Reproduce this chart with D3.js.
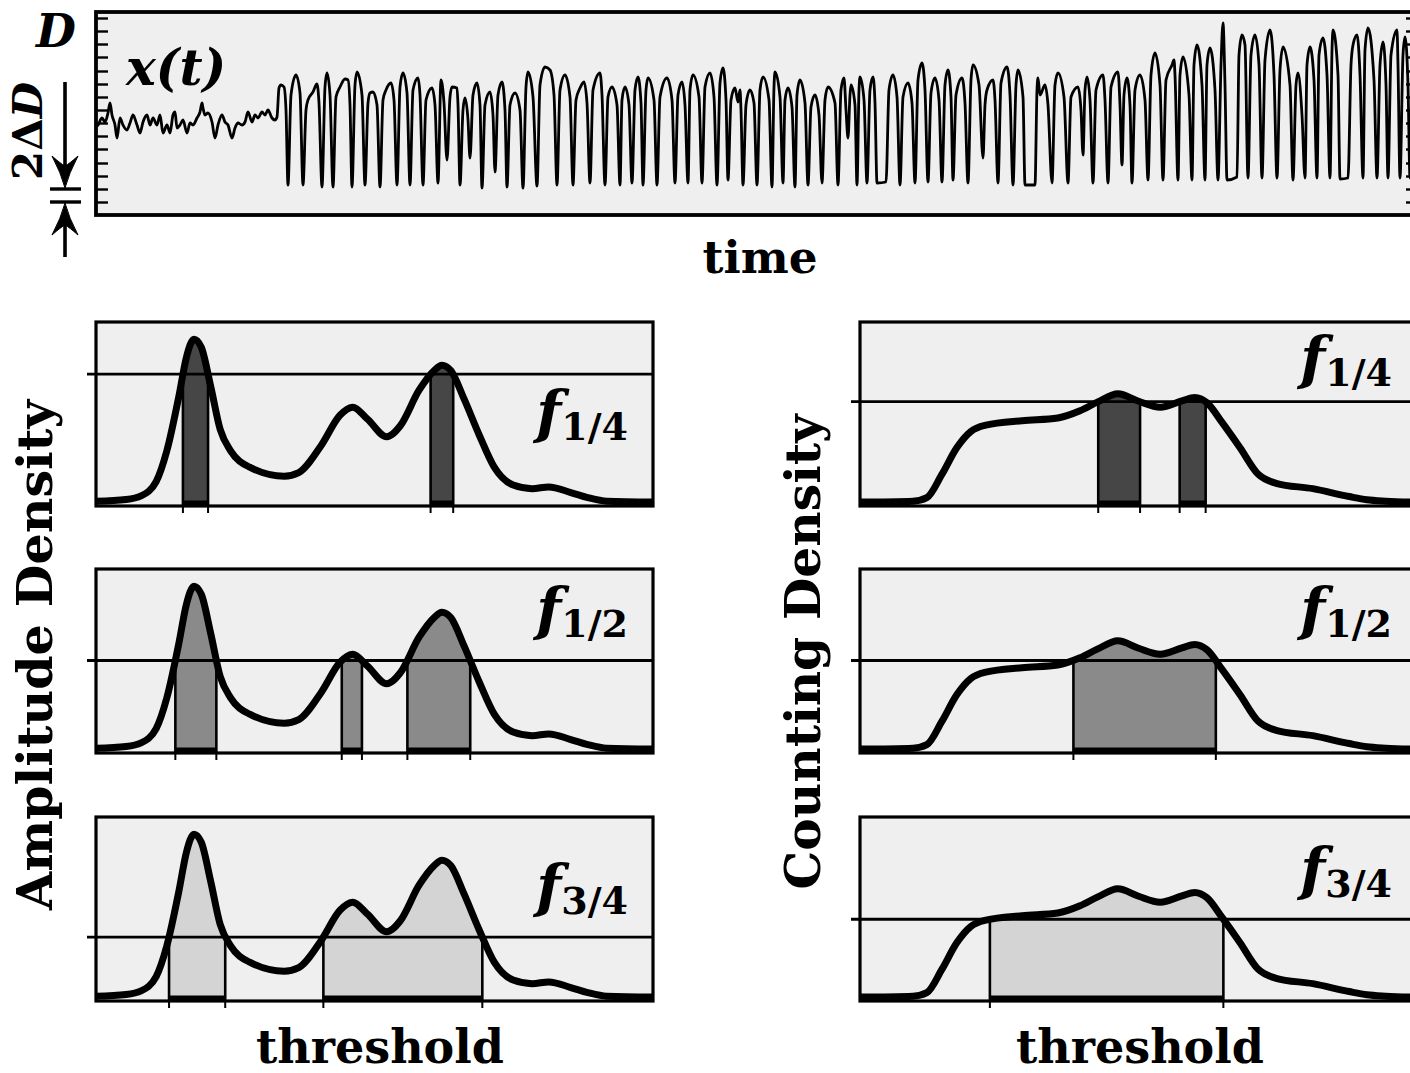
<!DOCTYPE html>
<html>
<head>
<meta charset="utf-8">
<script src="https://cdn.jsdelivr.net/npm/d3@7"></script>
<style>
  html, body { margin: 0; padding: 0; background: #fff; }
  svg { display: block; }
</style>
</head>
<body>
<svg id="fig" width="1410" height="1073"></svg>
<script>
// ---------------- data ----------------
// recorded signal x(t): [time, amplitude]
const signal = [
  [0,88],[2,90],[6,97],[9,93],[12,102],[14,112],[16,100],[19,90],[21,77],[24,97],[27,90],[31,85],[34,92],
  [37,100],[41,90],[44,82],[47,93],[51,100],[54,90],[57,97],[61,90],[64,100],[67,82],[71,90],[74,82],
  [77,100],[79,103],[81,87],[84,90],[87,95],[91,82],[94,92],[97,90],[101,97],[104,103],[106,112],[107,107],
  [109,100],[112,102],[116,93],[119,77],[122,90],[126,100],[129,93],[132,90],[136,77],[139,87],[142,92],
  [146,90],[149,93],[152,103],[156,93],[159,100],[162,97],[166,103],[169,100],[172,105],[176,97],[179,95],[181,98],
  [183,127],[185,130],[188,128],[190,105],[192,30],
  [195,120],[200,140],[204,122],[207,30],
  [210,105],[212,115],[217,123],[221,131],[223,112],[226,28],
  [229,128],[231,142],[234,120],[237,28],
  [240,118],[244,128],[249,136],[252,135],[254,110],[256,28],
  [259,130],[261,143],[266,120],[269,30],
  [272,112],[274,122],[277,123],[281,110],[284,28],
  [287,115],[290,125],[295,132],[298,115],[301,30],
  [304,128],[307,142],[311,122],[314,30],
  [317,125],[322,137],[324,120],[327,30],
  [330,115],[336,127],[339,110],[342,32],
  [345,135],[348,112],[351,55],
  [354,118],[356,128],[361,127],[362,110],[364,30],
  [367,105],[369,117],[372,95],[374,57],
  [377,120],[381,132],[384,110],[386,27],
  [389,110],[394,123],[397,100],[399,43],
  [402,120],[406,133],[409,105],[411,28],
  [414,110],[419,122],[424,105],[427,27],
  [430,128],[432,143],[437,118],[441,29],
  [444,130],[449,148],[454,145],[458,120],[461,30],
  [464,125],[469,140],[474,118],[477,30],
  [480,115],[484,127],[488,133],[491,112],[494,32],
  [497,125],[504,142],[506,120],[509,30],
  [512,118],[516,128],[521,110],[524,30],
  [526,115],[529,128],[533,110],[536,32],
  [539,125],[542,138],[545,112],[547,30],
  [550,125],[552,137],[558,115],[561,30],
  [564,118],[571,137],[576,115],[579,32],
  [582,120],[586,133],[589,110],[592,32],
  [594,125],[597,140],[603,118],[606,32],
  [609,128],[614,142],[618,118],[621,30],
  [624,132],[627,147],[630,115],[632,35],
  [635,115],[639,127],[642,113],[644,125],[645,105],[647,30],
  [650,110],[654,125],[658,112],[661,30],
  [664,125],[667,138],[673,115],[676,28],
  [678,128],[679,143],[684,118],[687,32],
  [689,115],[692,127],[696,108],[699,28],
  [701,120],[704,135],[709,112],[712,30],
  [715,108],[719,120],[723,100],[726,32],
  [729,115],[732,128],[739,112],[742,30],
  [745,125],[748,137],[750,105],[752,77],
  [754,120],[755,130],[759,110],[761,30],
  [763,125],[764,138],[768,115],[771,32],
  [774,125],[777,138],[779,112],[781,32],[790,33],
  [793,125],[797,140],[801,118],[804,30],
  [807,118],[812,132],[816,112],[819,32],
  [822,135],[826,152],[829,125],[832,33],
  [835,122],[839,137],[843,115],[846,33],
  [849,130],[852,145],[855,118],[857,35],
  [860,120],[866,137],[869,112],[872,32],
  [875,135],[877,150],[883,130],[887,57],
  [889,110],[891,125],[897,135],[899,115],[902,32],
  [905,132],[911,148],[914,120],[917,30],
  [920,130],[922,145],[927,118],[929,30],[939,30],
  [941,125],[942,137],[944,120],[949,130],[952,110],[956,32],
  [959,130],[962,142],[968,118],[972,32],
  [975,118],[982,128],[985,105],[987,60],
  [989,125],[991,138],[994,115],[997,32],
  [1000,125],[1007,140],[1009,115],[1012,32],
  [1015,128],[1022,143],[1024,110],[1026,50],
  [1028,120],[1031,137],[1034,110],[1036,32],
  [1039,125],[1044,140],[1049,115],[1052,35],
  [1055,140],[1059,162],[1064,130],[1067,35],
  [1070,135],[1076,150],[1078,155],[1079,140],[1082,35],
  [1084,140],[1087,158],[1093,120],[1096,35],
  [1098,150],[1101,170],[1106,130],[1109,35],
  [1111,150],[1114,167],[1119,125],[1122,35],
  [1125,150],[1127,192],[1129,130],[1131,35],[1141,38],
  [1143,160],[1146,180],[1149,170],[1152,37],
  [1155,160],[1159,180],[1163,150],[1166,37],
  [1169,155],[1174,185],[1178,140],[1181,37],
  [1184,145],[1187,168],[1194,130],[1197,35],
  [1200,130],[1202,142],[1206,100],[1209,37],
  [1211,150],[1214,168],[1218,135],[1221,37],
  [1223,160],[1227,177],[1231,140],[1234,37],
  [1236,165],[1237,185],[1242,140],[1244,36],[1252,37],
  [1255,150],[1257,170],[1261,180],[1264,140],[1267,37],
  [1269,165],[1272,187],[1278,135],[1281,37],
  [1284,150],[1287,173],[1290,130],[1292,37],
  [1295,160],[1301,185],[1302,150],[1304,37],
  [1307,160],[1309,178],[1312,130],[1314,37],
  [1317,150],[1322,180]
];

// amplitude grid marks (spacing 2ΔD)
const levelTicks = [13, 26, 39, 52, 66, 79, 92, 105, 118, 131, 144, 158, 171, 184, 197];

// amplitude density over threshold
const ampGrid    = [0, 5.4, 8.1, 10.8, 12.7, 14.9, 16.2, 17.6, 18.9, 20.6, 22.3, 24.2, 27.6, 33.8, 36.4, 40.4,
                    43.8, 46.1, 48.7, 52.2, 54.6, 58.0, 60.7, 62.1, 63.7, 66.1, 68.8, 71.5, 74.9, 78.3, 81.3,
                    85.1, 88.3, 91.7, 100];
const ampDensity = [0.01, 0.02, 0.04, 0.12, 0.29, 0.60, 0.81, 0.915, 0.87, 0.65, 0.41, 0.29, 0.20, 0.15, 0.17, 0.32,
                    0.49, 0.535, 0.47, 0.37, 0.43, 0.63, 0.74, 0.77, 0.74, 0.58, 0.38, 0.20, 0.10, 0.08, 0.09,
                    0.06, 0.03, 0.01, 0.005];

// counting density over threshold
const cntGrid    = [0, 9.5, 12.0, 14.7, 17.4, 19.9, 22.6, 29.1, 35.5, 39.5, 42.7, 46.3, 49.9, 53.9, 57.8, 60.1,
                    62.3, 65.0, 68.2, 71.5, 74.7, 81.3, 87.8, 91.0, 94.4, 100];
const cntDensity = [0.005, 0.01, 0.03, 0.16, 0.31, 0.40, 0.435, 0.46, 0.475, 0.515, 0.565, 0.61, 0.57, 0.535, 0.57, 0.59,
                    0.56, 0.45, 0.31, 0.16, 0.11, 0.08, 0.036, 0.018, 0.01, 0.004];

// level fractions and the density levels they select
const fractions           = ["1/4", "1/2", "3/4"];
const amplitudeThresholds = [0.72, 0.50, 0.34];
const countingThresholds  = [0.566, 0.50, 0.44];

// ---------------- style / layout ----------------
const FONT = "'DejaVu Serif', serif";
const BG = "#efefef";
const SHADES = ["#464646", "#8a8a8a", "#d4d4d4"];

const svg = d3.select("#fig");
const defs = svg.append("defs");

function fitWidth(sel, target) {
  const len = sel.node().getComputedTextLength();
  const fs = parseFloat(sel.attr("font-size"));
  sel.attr("font-size", (fs * target / len).toFixed(2));
  return sel;
}

// ---------------- time series panel ----------------
const tsFrame = { x0: 96, x1: 1418, y0: 12, y1: 215 };
const tScale = d3.scaleLinear().domain([0, 1322]).range([tsFrame.x0, tsFrame.x1]);
const aScale = d3.scaleLinear().domain([0, 203]).range([tsFrame.y1, tsFrame.y0]);

defs.append("clipPath").attr("id", "clip-top").append("rect")
  .attr("x", tsFrame.x0).attr("y", tsFrame.y0)
  .attr("width", tsFrame.x1 - tsFrame.x0).attr("height", tsFrame.y1 - tsFrame.y0);

svg.append("rect")
  .attr("x", tsFrame.x0).attr("y", tsFrame.y0)
  .attr("width", tsFrame.x1 - tsFrame.x0).attr("height", tsFrame.y1 - tsFrame.y0)
  .attr("fill", BG);

// inward grid marks on both sides
const axL = svg.append("g").attr("transform", `translate(${tsFrame.x0},0)`)
  .call(d3.axisRight(aScale).tickValues(levelTicks).tickSize(12).tickFormat(""));
const axR = svg.append("g").attr("transform", `translate(${tsFrame.x1},0)`)
  .call(d3.axisLeft(aScale).tickValues(levelTicks).tickSize(12).tickFormat(""));
[axL, axR].forEach(g => {
  g.select(".domain").remove();
  g.selectAll(".tick line").attr("stroke", "#000").attr("stroke-width", 2.4);
});

svg.append("path")
  .datum(signal)
  .attr("clip-path", "url(#clip-top)")
  .attr("fill", "none")
  .attr("stroke", "#000")
  .attr("stroke-width", 2.8)
  .attr("stroke-linejoin", "round")
  .attr("d", d3.line().x(d => tScale(d[0])).y(d => aScale(d[1])).curve(d3.curveMonotoneX));

svg.append("rect")
  .attr("x", tsFrame.x0).attr("y", tsFrame.y0)
  .attr("width", tsFrame.x1 - tsFrame.x0).attr("height", tsFrame.y1 - tsFrame.y0)
  .attr("fill", "none").attr("stroke", "#000").attr("stroke-width", 3.8);

// labels of the time series panel
svg.append("text").attr("x", 76).attr("y", 47)
  .attr("text-anchor", "end").attr("font-family", FONT).attr("font-size", 46)
  .attr("font-weight", "bold").attr("font-style", "italic").text("D");

svg.append("text").attr("x", 126).attr("y", 85)
  .attr("font-family", FONT).attr("font-size", 50).attr("font-weight", "bold")
  .attr("font-style", "italic").text("x(t)");

const tl = svg.append("text").attr("x", 760).attr("y", 273)
  .attr("text-anchor", "middle").attr("font-family", FONT).attr("font-size", 44)
  .attr("font-weight", "bold").text("time");
fitWidth(tl, 115);

// 2ΔD scale bar
const ax = 65;
const yHi = aScale(levelTicks[1]), yLo = aScale(levelTicks[0]);
const arrowG = svg.append("g").attr("stroke", "#000").attr("fill", "#000");
arrowG.append("line").attr("x1", ax).attr("x2", ax).attr("y1", 82).attr("y2", yHi - 10).attr("stroke-width", 3.6);
arrowG.append("line").attr("x1", ax).attr("x2", ax).attr("y1", yLo + 10).attr("y2", 257).attr("stroke-width", 3.6);
[yHi, yLo].forEach(y => arrowG.append("line")
  .attr("x1", 50).attr("x2", 81).attr("y1", y).attr("y2", y).attr("stroke-width", 3.4));
const head = "M0,0 Q-4,-15 -13,-32 Q-4,-24 0,-22 Q4,-24 13,-32 Q4,-15 0,0 Z";
arrowG.append("path").attr("d", head).attr("stroke-width", 1)
  .attr("transform", `translate(${ax},${yHi - 1})`);
arrowG.append("path").attr("d", head).attr("stroke-width", 1)
  .attr("transform", `translate(${ax},${yLo + 1}) rotate(180)`);

const dd = svg.append("text")
  .attr("transform", `translate(42,131) rotate(-90)`)
  .attr("text-anchor", "middle").attr("font-family", FONT).attr("font-size", 38).attr("font-weight", "bold");
dd.append("tspan").text("2Δ");
dd.append("tspan").attr("font-style", "italic").text("D");
fitWidth(dd, 98);

// ---------------- density panels ----------------
const panelW = 557, panelH = 184;
const rowTops = [322, 569, 817];
const colLefts = [96, 860];
const labelBase = [[110, 60, 89], [56, 60, 72]]; // baseline offsets of the f labels

function densityPanel(x0, y0, grid, dens, thr, shade, frac, labelDy, idx) {
  const x1 = x0 + panelW, y1 = y0 + panelH;
  const xs = d3.scaleLinear().domain([0, 100]).range([x0, x1]);
  const ys = d3.scaleLinear().domain([0, 1]).range([y1 - 3, y0 + 2]);
  const pts = grid.map((g, i) => [g, dens[i]]);
  const line = d3.line().x(d => xs(d[0])).y(d => ys(d[1])).curve(d3.curveMonotoneX);
  const g = svg.append("g");
  const cid = "clip-p" + idx;
  defs.append("clipPath").attr("id", cid).append("rect")
    .attr("x", x0).attr("y", y0).attr("width", panelW).attr("height", panelH);

  g.append("rect").attr("x", x0).attr("y", y0).attr("width", panelW).attr("height", panelH).attr("fill", BG);

  // sample the drawn curve to find where it rises above the level line
  const probe = g.append("path").attr("d", line(pts)).attr("fill", "none");
  const node = probe.node();
  const L = node.getTotalLength();
  const samples = [];
  for (let s = 0; s <= L; s += 0.5) { const p = node.getPointAtLength(s); samples.push([p.x, p.y]); }
  probe.remove();
  const ty = ys(thr);
  const runs = [];
  let cur = null;
  for (let i = 1; i < samples.length; i++) {
    const [xa, ya] = samples[i - 1], [xb, yb] = samples[i];
    const inA = ya < ty, inB = yb < ty;
    if (!inA && inB) {
      const xc = xa + (xb - xa) * (ty - ya) / (yb - ya);
      cur = { xa: xc, pts: [] };
    }
    if (inB && cur) cur.pts.push([xb, yb]);
    if (inA && !inB && cur) {
      const xc = xa + (xb - xa) * (ty - ya) / (yb - ya);
      cur.xb = xc; runs.push(cur); cur = null;
    }
  }

  // shaded superlevel regions
  runs.forEach(r => {
    const poly = [[r.xa, y1], [r.xa, ty], ...r.pts, [r.xb, ty], [r.xb, y1]];
    g.append("path").attr("d", "M" + poly.map(p => p.join(",")).join("L") + "Z")
      .attr("fill", shade).attr("stroke", "none");
    [r.xa, r.xb].forEach(x => g.append("line")
      .attr("x1", x).attr("x2", x).attr("y1", y1).attr("y2", ty)
      .attr("stroke", "#000").attr("stroke-width", 2.6));
  });

  // level line with its outer mark
  g.append("line").attr("x1", x0 - 9).attr("x2", x1).attr("y1", ty).attr("y2", ty)
    .attr("stroke", "#000").attr("stroke-width", 2.8);

  // density curve
  g.append("path").attr("d", line(pts)).attr("clip-path", `url(#${cid})`)
    .attr("fill", "none").attr("stroke", "#000").attr("stroke-width", 7)
    .attr("stroke-linejoin", "round").attr("stroke-linecap", "round");

  // superlevel sets on the axis
  runs.forEach(r => {
    g.append("line").attr("x1", r.xa).attr("x2", r.xb).attr("y1", y1 - 2.5).attr("y2", y1 - 2.5)
      .attr("stroke", "#000").attr("stroke-width", 6);
    [r.xa, r.xb].forEach(x => g.append("line")
      .attr("x1", x).attr("x2", x).attr("y1", y1).attr("y2", y1 + 7)
      .attr("stroke", "#000").attr("stroke-width", 2));
  });

  g.append("rect").attr("x", x0).attr("y", y0).attr("width", panelW).attr("height", panelH)
    .attr("fill", "none").attr("stroke", "#000").attr("stroke-width", 3.2);

  const lab = g.append("text").attr("x", x1 - 25).attr("y", y0 + labelDy)
    .attr("text-anchor", "end").attr("font-family", FONT).attr("font-weight", "bold");
  lab.append("tspan").attr("font-size", 58).attr("font-style", "italic").text("f");
  lab.append("tspan").attr("font-size", 38).attr("dy", 8).text(frac);
}

fractions.forEach((fr, i) => {
  densityPanel(colLefts[0], rowTops[i], ampGrid, ampDensity, amplitudeThresholds[i], SHADES[i], fr, labelBase[0][i], "a" + i);
  densityPanel(colLefts[1], rowTops[i], cntGrid, cntDensity, countingThresholds[i], SHADES[i], fr, labelBase[1][i], "c" + i);
});

// axis titles
const yl1 = svg.append("text").attr("transform", "translate(52,655) rotate(-90)")
  .attr("text-anchor", "middle").attr("font-family", FONT).attr("font-size", 45).attr("font-weight", "bold")
  .text("Amplitude Density");
fitWidth(yl1, 510);
const yl2 = svg.append("text").attr("transform", "translate(820,652) rotate(-90)")
  .attr("text-anchor", "middle").attr("font-family", FONT).attr("font-size", 45).attr("font-weight", "bold")
  .text("Counting Density");
fitWidth(yl2, 475);
[380, 1140].forEach(x => {
  const t = svg.append("text").attr("x", x).attr("y", 1063)
    .attr("text-anchor", "middle").attr("font-family", FONT).attr("font-size", 45).attr("font-weight", "bold")
    .text("threshold");
  fitWidth(t, 248);
});
</script>
</body>
</html>
